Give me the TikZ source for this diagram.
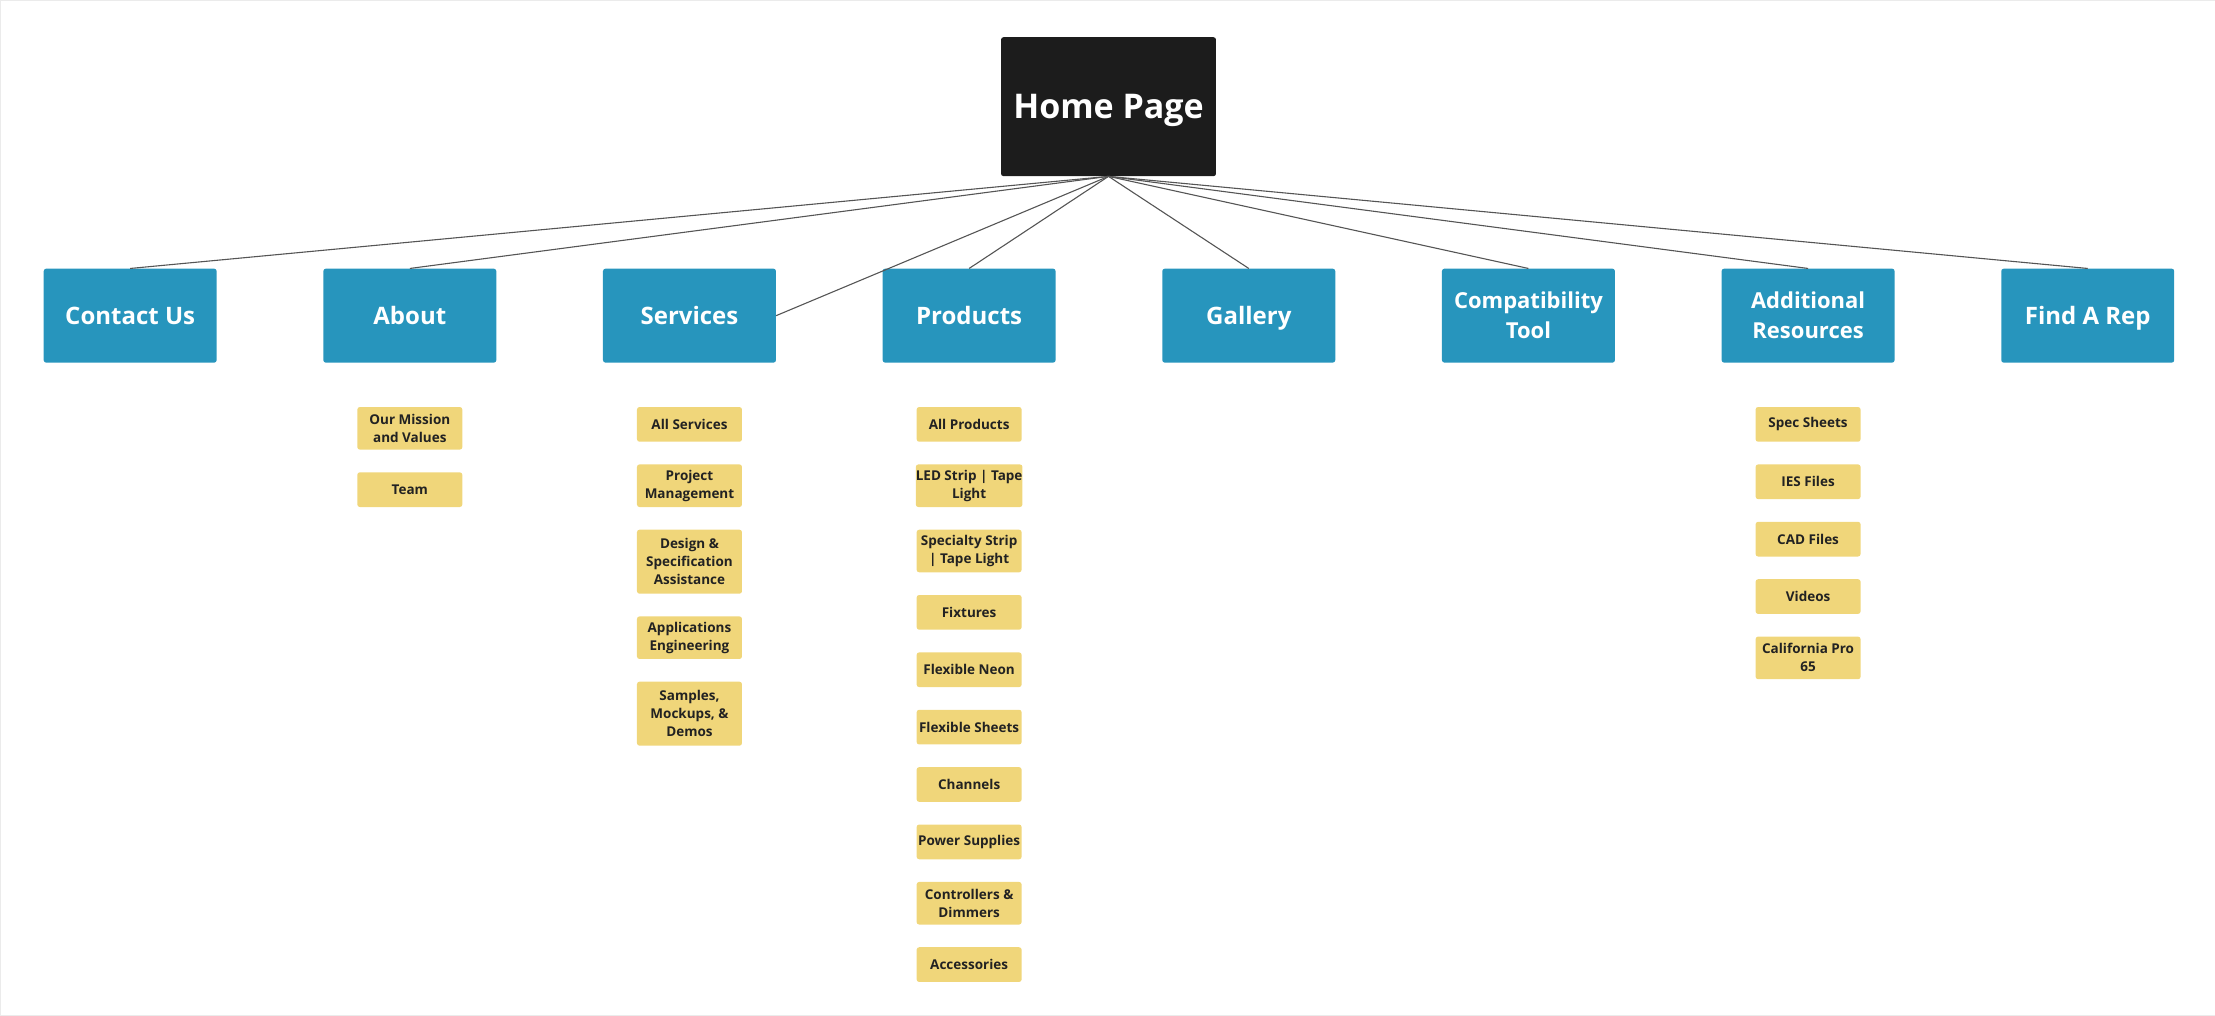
\documentclass[tikz,border=0pt]{standalone}
\usepackage{fontspec}
\setmainfont{Open Sans}
\usetikzlibrary{positioning}
\definecolor{homeblack}{HTML}{1C1C1C}
\definecolor{secblue}{HTML}{2795BD}
\definecolor{pageyellow}{HTML}{F0D67A}
\definecolor{pagetext}{HTML}{222222}
\definecolor{linkgray}{HTML}{555555}
\tikzset{
  home/.style={fill=homeblack, text=white, rounded corners=2.5pt, minimum width=215pt,
    minimum height=139pt, text depth=0pt, font=\bfseries\fontsize{34}{40}\selectfont},
  section/.style={fill=secblue, text=white, rounded corners=2.5pt, minimum width=173pt,
    minimum height=94pt, align=center, text depth=0pt,
    font=\bfseries\fontsize{24}{30}\selectfont},
  twoline/.style={text depth=, font=\bfseries\fontsize{22}{30}\selectfont},
  page/.style={fill=pageyellow, text=pagetext, rounded corners=2.5pt, minimum width=105pt,
    minimum height=34.7pt, inner xsep=0pt, inner ysep=5pt, align=center,
    font=\bfseries\fontsize{13.5}{18}\selectfont},
  pair/.style={minimum height=42.6pt},
  triple/.style={minimum height=64pt},
  link/.style={draw=linkgray, line width=1.1pt}
}
\begin{document}
\begin{tikzpicture}[x=1pt,y=1pt,node distance=22.3pt]
\draw[draw=black!8] (0,0) rectangle (2215,-1015);
\useasboundingbox (0,0) rectangle (2215,-1015);

% top level
\node[home] (home) at (1108.5,-106.5) {Home Page};

% sections
\node[section] (contact) at (130,-315.5) {Contact Us};
\node[section] (about) at (409.7,-315.5) {About};
\node[section] (services) at (689.4,-315.5) {Services};
\node[section] (products) at (969.1,-315.5) {Products};
\node[section] (gallery) at (1248.8,-315.5) {Gallery};
\node[section,twoline] (compat) at (1528.5,-315.5) {Compatibility\\Tool};
\node[section,twoline] (resources) at (1808.2,-315.5) {Additional\\Resources};
\node[section] (findrep) at (2087.9,-315.5) {Find A Rep};

\foreach \s in {contact,about,products,gallery,compat,resources,findrep}
  \draw[link] (home.south) -- (\s.north);
\draw[link] (home.south) -- (services.east);

% about pages
\node[page,pair,anchor=north] (mission) at (409.7,-406.7) {Our Mission\\and Values};
\node[page,below=of mission] (team) {Team};

% services pages
\node[page,anchor=north] (allserv) at (689.4,-406.7) {All Services};
\node[page,pair,below=of allserv] (projmgmt) {Project\\Management};
\node[page,triple,below=of projmgmt] (design) {Design \&\\Specification\\Assistance};
\node[page,pair,below=of design] (appeng) {Applications\\Engineering};
\node[page,triple,below=of appeng] (samples) {Samples,\\Mockups, \&\\Demos};

% products pages
\node[page,anchor=north] (allprod) at (969.1,-406.7) {All Products};
\node[page,pair,below=of allprod] (ledstrip) {LED Strip | Tape\\Light};
\node[page,pair,below=of ledstrip] (specialty) {Specialty Strip\\| Tape Light};
\node[page,below=of specialty] (fixtures) {Fixtures};
\node[page,below=of fixtures] (neon) {Flexible Neon};
\node[page,below=of neon] (sheets) {Flexible Sheets};
\node[page,below=of sheets] (channels) {Channels};
\node[page,below=of channels] (power) {Power Supplies};
\node[page,pair,below=of power] (controllers) {Controllers \&\\Dimmers};
\node[page,below=of controllers] (accessories) {Accessories};

% resources pages
\node[page,anchor=north] (specsheets) at (1808.2,-406.7) {Spec Sheets};
\node[page,below=of specsheets] (ies) {IES Files};
\node[page,below=of ies] (cad) {CAD Files};
\node[page,below=of cad] (videos) {Videos};
\node[page,pair,below=of videos] (prop65) {California Pro\\65};
\end{tikzpicture}
\end{document}
